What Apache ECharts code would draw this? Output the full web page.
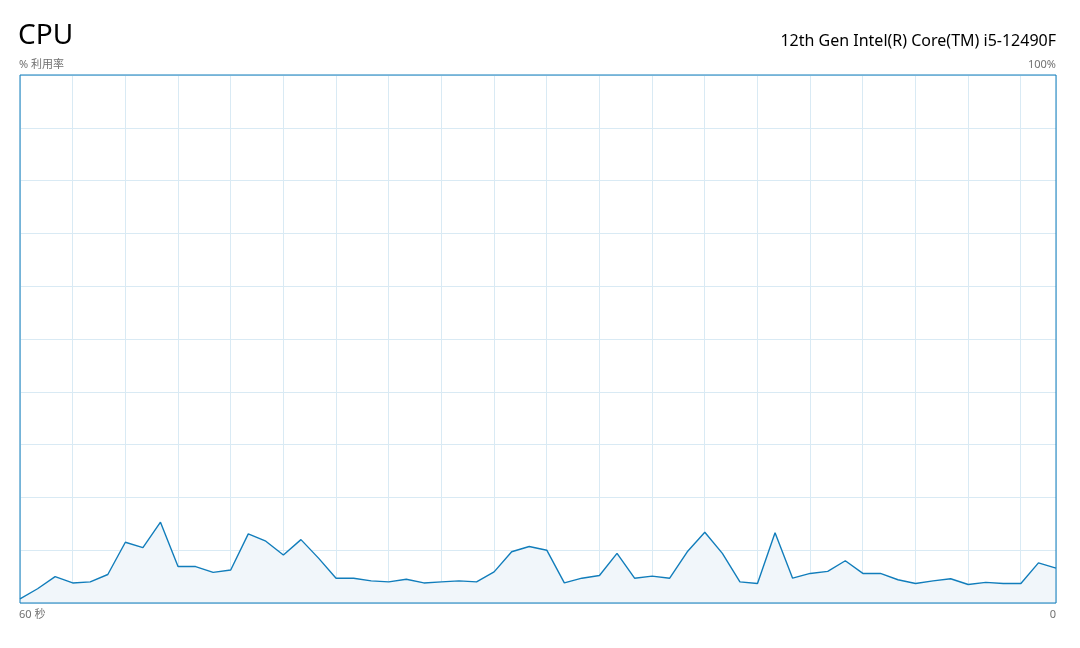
<!DOCTYPE html>
<html>
<head>
<meta charset="utf-8">
<script src="https://cdn.jsdelivr.net/npm/echarts@6/dist/echarts.min.js"></script>
<style>html,body{margin:0;padding:0;background:#fff}#c{width:1080px;height:648px}</style>
</head>
<body>
<div id="c"></div>
<script>
// seconds ago: 60 ... 0 (index 0 = oldest)
const seconds = Array.from({length: 60}, (_, i) => i);
const cpuUsage = [
  0.8, 2.7, 5.0, 3.8, 4.0, 5.4, 11.5, 10.5, 15.3, 6.9,
  6.9, 5.8, 6.25, 13.1, 11.7, 9.1, 12.0, 8.5, 4.7, 4.7,
  4.2, 4.0, 4.5, 3.8, 4.0, 4.2, 4.0, 5.9, 9.7, 10.7,
  10.0, 3.8, 4.7, 5.2, 9.4, 4.7, 5.1, 4.7, 9.7, 13.4,
  9.4, 4.0, 3.7, 13.3, 4.7, 5.6, 6.0, 8.0, 5.6, 5.6,
  4.4, 3.7, 4.2, 4.6, 3.5, 3.9, 3.7, 3.7, 7.6, 6.6
];
const titleText = 'CPU';
const cpuModel = '12th Gen Intel(R) Core(TM) i5-12490F';
const yLabel = '% 利用率';
const yMaxLabel = '100%';
const xStartLabel = '60 秒';
const xEndLabel = '0';

const FONT = '"Noto Sans", "Noto Sans CJK SC", sans-serif';
const chart = echarts.init(document.getElementById('c'));
chart.setOption({
  backgroundColor: '#ffffff',
  animation: false,
  grid: {left: 20, top: 75, width: 1036, height: 528, show: true,
         borderColor: '#117DBB', borderWidth: 1, backgroundColor: 'transparent', z: 3},
  xAxis: [
    {type: 'value', min: 0, max: 59, show: true,
     axisLine: {show: false}, axisTick: {show: false}, axisLabel: {show: false}, splitLine: {show: false}},
    {type: 'value', min: 0, max: 19.67, interval: 1, position: 'bottom',
     axisLine: {show: false}, axisTick: {show: false}, axisLabel: {show: false},
     splitLine: {show: true, lineStyle: {color: '#D9EAF4', width: 1}}}
  ],
  yAxis: {type: 'value', min: 0, max: 100, interval: 10,
     axisLine: {show: false}, axisTick: {show: false}, axisLabel: {show: false},
     splitLine: {show: true, lineStyle: {color: '#D9EAF4', width: 1}}},
  series: [{
    type: 'line', xAxisIndex: 0,
    data: seconds.map((s, i) => [s, cpuUsage[i]]),
    symbol: 'none', smooth: false,
    lineStyle: {color: '#117DBB', width: 1.4},
    areaStyle: {color: '#F1F6FA', opacity: 1},
    z: 2
  }],
  graphic: [
    {type: 'text', left: 18, top: 22, style: {text: titleText, font: '28px ' + FONT, fill: '#000000'}},
    {type: 'text', right: 24, top: 33, style: {text: cpuModel, font: '16px ' + FONT, fill: '#000000'}},
    {type: 'text', left: 19, top: 59, style: {text: yLabel, font: '11px ' + FONT, fill: '#707070'}},
    {type: 'text', right: 24, top: 59, style: {text: yMaxLabel, font: '11px ' + FONT, fill: '#707070'}},
    {type: 'text', left: 19, top: 609, style: {text: xStartLabel, font: '11px ' + FONT, fill: '#707070'}},
    {type: 'text', right: 24, top: 609, style: {text: xEndLabel, font: '11px ' + FONT, fill: '#707070'}}
  ]
});
</script>
</body>
</html>
